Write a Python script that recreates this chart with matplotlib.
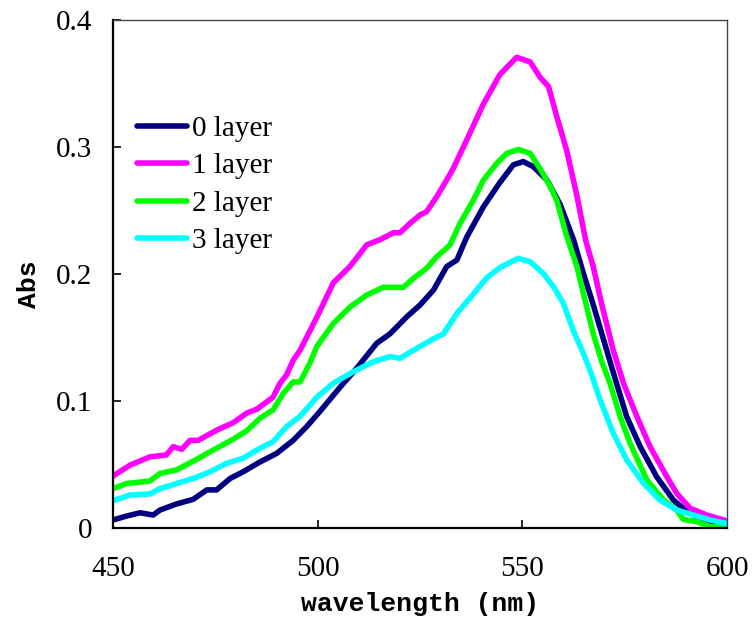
import matplotlib
matplotlib.use('Agg')
import matplotlib.pyplot as plt

# 0 layer
wl0 = [450, 453.3, 456.6, 459.8, 461.5, 465.5, 469.6, 472.9, 475.3, 478.6, 481.8, 485.9,
       490, 494, 497.3, 500.6, 505.5, 509.5, 514.4, 517.7, 521.8, 525, 528.3, 531.5, 534,
       536.4, 540.5, 544.5, 547.8, 550.2, 552.7, 556, 559.2, 562.5, 564.9, 567.3, 570.6,
       573, 575.5, 578.8, 582.8, 586.9, 590.2, 593.4, 597.5, 600]
abs0 = [0.0063, 0.0094, 0.012, 0.0102, 0.0142, 0.0189, 0.0226, 0.030, 0.030, 0.039, 0.0443,
        0.052, 0.0588, 0.069, 0.0798, 0.092, 0.111, 0.1257, 0.1454, 0.153, 0.1664, 0.1756,
        0.1874, 0.2058, 0.211, 0.229, 0.253, 0.272, 0.286, 0.2885, 0.2845, 0.274, 0.255,
        0.227, 0.2005, 0.176, 0.140, 0.114, 0.0876, 0.064, 0.0404, 0.022, 0.0129, 0.0076,
        0.0024, 0.0016]

# 1 layer
wl1 = [450, 454.2, 459, 463, 464.7, 466.8, 468.8, 470.8, 475.3, 479.4, 482.7, 485.1, 489.1,
       490.8, 492.4, 494, 495.7, 499.8, 503.8, 507.9, 512, 515.2, 518.5, 520.1, 522.6, 525,
       526.6, 529.1, 531.5, 533.1, 536.4, 540.5, 544.5, 548.6, 551.9, 554.3, 556.4, 558.4,
       560.8, 563.3, 565.5, 567.3, 569.4, 572.2, 574.7, 578, 581.2, 585.3, 587.7, 591,
       595.1, 600]
abs1 = [0.041, 0.0496, 0.056, 0.0575, 0.064, 0.062, 0.069, 0.069, 0.077, 0.083, 0.0905,
        0.0935, 0.103, 0.114, 0.1205, 0.132, 0.140, 0.166, 0.193, 0.206, 0.223, 0.227,
        0.2325, 0.2325, 0.240, 0.2465, 0.249, 0.261, 0.274, 0.283, 0.3055, 0.334, 0.357,
        0.3706, 0.367, 0.355, 0.3475, 0.324, 0.2976, 0.262, 0.226, 0.206, 0.176, 0.140,
        0.114, 0.0876, 0.064, 0.0404, 0.0273, 0.0155, 0.0102, 0.0055]

# 2 layer
wl2 = [450, 453.3, 459, 461.5, 465.5, 470.4, 473.7, 479.4, 482.7, 485.9, 489.1, 491.6, 494,
       495.7, 498.1, 499.8, 503.8, 507.9, 512, 516, 520.9, 523.4, 526.6, 529.1, 532.3,
       534.8, 538, 540.5, 543.7, 546.2, 549, 551.9, 554.3, 556.8, 558.4, 560.8, 563.3,
       565.3, 567.3, 569.5, 571.4, 573.9, 576.3, 580.4, 584.5, 587.7, 589.3, 592.6,
       595.9, 600]
abs2 = [0.031, 0.035, 0.037, 0.043, 0.0457, 0.054, 0.060, 0.070, 0.0767, 0.0864, 0.093,
        0.106, 0.115, 0.115, 0.130, 0.143, 0.161, 0.174, 0.1835, 0.1895, 0.1895, 0.1966,
        0.2045, 0.2136, 0.2228, 0.240, 0.258, 0.274, 0.287, 0.295, 0.298, 0.295, 0.283,
        0.269, 0.258, 0.230, 0.206, 0.1795, 0.153, 0.130, 0.114, 0.0876, 0.0667, 0.0378,
        0.022, 0.0142, 0.0068, 0.005, 0.001, 0.001]

# 3 layer
wl3 = [450, 454.2, 459, 461.5, 465.5, 469.6, 473.7, 477.8, 481.8, 485.1, 489.1, 492.4,
       495.7, 499.8, 503.8, 508.7, 513.6, 517.7, 520.1, 523.4, 528.3, 530.7, 534, 537.2,
       541.3, 544.5, 549, 551.9, 555.1, 557.6, 560, 562.5, 564.9, 566.9, 569, 572.2,
       575.5, 579.6, 583.6, 587.7, 591.8, 595.9, 600]
abs3 = [0.0215, 0.026, 0.0268, 0.031, 0.035, 0.039, 0.0443, 0.051, 0.055, 0.0614, 0.068,
        0.0798, 0.088, 0.103, 0.114, 0.123, 0.131, 0.135, 0.1336, 0.140, 0.149, 0.1527,
        0.169, 0.181, 0.197, 0.205, 0.2124, 0.2097, 0.2005, 0.190, 0.177, 0.155, 0.1375,
        0.121, 0.1008, 0.0746, 0.0535, 0.0352, 0.022, 0.0142, 0.0102, 0.0063, 0.0035]

series = [(wl0, abs0, '0 layer', '#000080'),
          (wl1, abs1, '1 layer', '#ff00ff'),
          (wl2, abs2, '2 layer', '#00ff00'),
          (wl3, abs3, '3 layer', '#00ffff')]

xticks = [450, 500, 550, 600]
yticks = [0, 0.1, 0.2, 0.3, 0.4]
ytick_labels = ['0', '0.1', '0.2', '0.3', '0.4']

plt.rcParams['font.family'] = ['Liberation Serif', 'DejaVu Serif']

fig = plt.figure(figsize=(7.52, 6.19), dpi=100)
ax = fig.add_axes([0.1503, 0.147, 0.8165, 0.8207])

for wl, a, lab, col in series:
    ax.plot(wl, a, color=col, linewidth=4, label=lab, solid_capstyle='round')

ax.set_xlim(450, 600)
ax.set_ylim(0, 0.4)
ax.set_xticks(xticks)
ax.set_xticklabels([str(t) for t in xticks])
ax.set_yticks(yticks)
ax.set_yticklabels(ytick_labels)
ax.tick_params(direction='in', length=6, width=1.2, labelsize=21, top=False, right=False)
ax.tick_params(axis='x', pad=20)
ax.tick_params(axis='y', pad=15)

for s in ['left', 'bottom']:
    ax.spines[s].set_linewidth(1.6)
for s in ['top', 'right']:
    ax.spines[s].set_linewidth(1.0)
    ax.spines[s].set_color('#444444')

ax.set_xlabel('wavelength (nm)', fontsize=19, fontweight='bold', family='Liberation Mono', labelpad=7)
ax.set_ylabel('Abs', fontsize=19, fontweight='bold', family='Liberation Mono')
ax.yaxis.set_label_coords(-0.117, 0.48)

ax.legend(loc='upper left', bbox_to_anchor=(0.039, 0.812), frameon=False, fontsize=21,
          handlelength=1.7, handletextpad=0.2, labelspacing=0.38, borderaxespad=0,
          borderpad=0)

plt.savefig('out.png', dpi=100)
